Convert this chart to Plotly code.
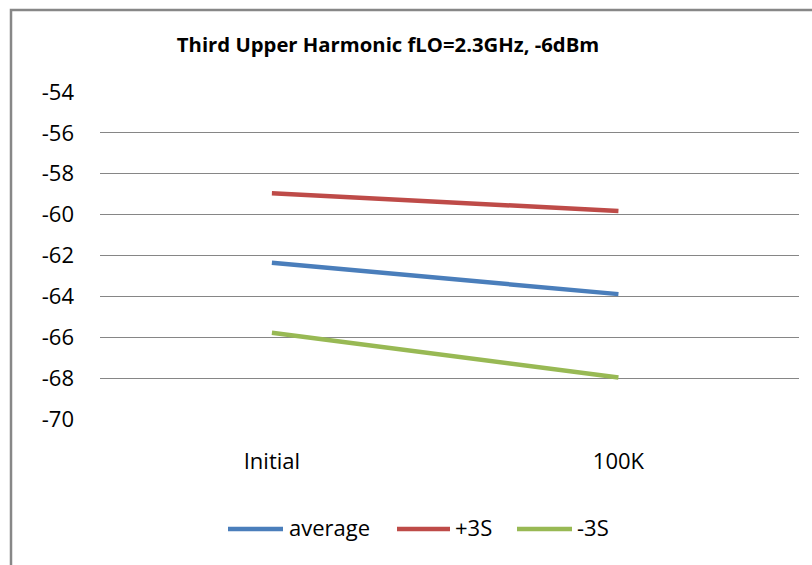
import plotly.graph_objects as go

categories = ["Initial", "100K"]
average = [-62.36, -63.89]
plus3s = [-58.95, -59.82]
minus3s = [-65.78, -67.97]
y_ticks = [-70, -68, -66, -64, -62, -60, -58, -56, -54]

W, H = 812, 565
L, R, T, B = 100, 13, 92, 146
pw, ph = W - L - R, H - T - B


def px_x(x):
    return (x - L) / pw


def px_y(y):
    return (H - B - y) / ph


fig = go.Figure()
series = [("average", average, "#4A7EBB"), ("+3S", plus3s, "#BE4B48"), ("-3S", minus3s, "#98B954")]
for name, vals, col in series:
    fig.add_trace(go.Scatter(x=[0, 1], y=vals, mode="lines", name=name,
                             line=dict(color=col, width=4.5), showlegend=False))

fig.update_layout(
    width=W, height=H,
    margin=dict(l=L, r=R, t=T, b=B, pad=0),
    paper_bgcolor="white", plot_bgcolor="white",
    font=dict(family="Open Sans", size=22, color="#000000"),
    title=dict(text="<b>Third Upper Harmonic fLO=2.3GHz, -6dBm</b>",
               x=388 / W, xanchor="center", xref="container",
               y=1 - 45 / H, yanchor="middle", yref="container",
               font=dict(family="Open Sans", size=20.3, color="#000000")),
    showlegend=False,
    xaxis=dict(range=[-0.496, 1.521], tickmode="array", tickvals=[0, 1], ticktext=categories,
               showgrid=False, zeroline=False, showline=False, ticks="",
               ticklabelstandoff=27, fixedrange=True),
    yaxis=dict(range=[-70, -54], tickmode="array", tickvals=y_ticks,
               ticktext=[str(v) for v in y_ticks],
               showgrid=True, gridcolor="#868686", gridwidth=1.4, zeroline=False,
               showline=False, ticks="", ticklabelstandoff=25, fixedrange=True),
)

# outer chart border (extends beyond the visible window on right/bottom)
fig.add_shape(type="rect", xref="paper", yref="paper",
              x0=px_x(11), x1=px_x(830), y0=px_y(580), y1=px_y(10),
              line=dict(color="#878787", width=2.5), fillcolor="rgba(0,0,0,0)", layer="below")

# legend (line sample + label), laid out like the reference
legend_items = [(228, 283, 287), (397, 450, 453), (517, 572, 575)]
for (name, vals, col), (lx0, lx1, tx) in zip(series, legend_items):
    fig.add_shape(type="line", xref="paper", yref="paper",
                  x0=px_x(lx0), x1=px_x(lx1), y0=px_y(529), y1=px_y(529),
                  line=dict(color=col, width=4.5))
    fig.add_annotation(text=name, xref="paper", yref="paper", x=px_x(tx), y=px_y(527),
                       xanchor="left", yanchor="middle", showarrow=False,
                       font=dict(family="Open Sans", size=22, color="#000000"))

fig.write_html("out.html")
